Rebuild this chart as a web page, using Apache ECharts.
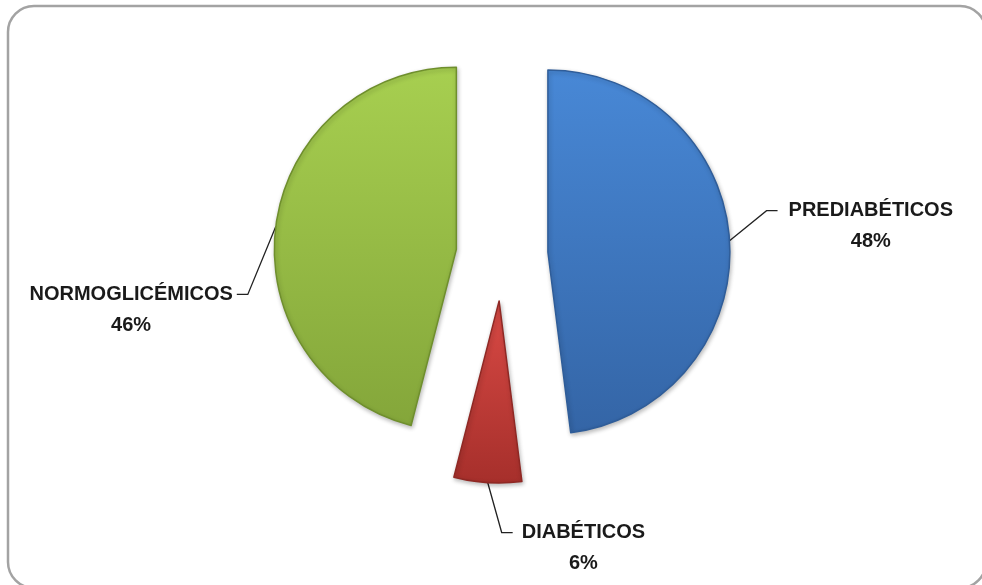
<!DOCTYPE html>
<html>
<head>
<meta charset="utf-8">
<title>Pie</title>
<script src="https://cdn.jsdelivr.net/npm/echarts/dist/echarts.min.js"></script>
<style>
  html, body { margin: 0; padding: 0; background: #fff; }
  #chart { width: 982px; height: 585px; }
</style>
</head>
<body>
<div id="chart"></div>
<script>
// datos del grafico
var categorias = ['PREDIABÉTICOS', 'DIABÉTICOS', 'NORMOGLICÉMICOS'];
var valores = [48, 6, 46];

// colores (arriba, abajo, borde)
var colores = [
    ['#4888d6', '#3465a6', '#2f5d99'],
    ['#d94a45', '#a62f2b', '#8f2824'],
    ['#a7cf50', '#84a63a', '#6f8f2d']
];

// quiebre de la linea guia: [dx, dy, tramo horizontal, separacion]
var quiebres = [
    [37, -30, 11, 11],
    [14, 50, 11, 9],
    [-28, 68, -11, 4]
];

var myChart = echarts.init(document.getElementById('chart'));

var datos = [];
for (var i = 0; i < categorias.length; i++) {
    datos.push({
        name: categorias[i],
        value: valores[i],
        selected: true,
        itemStyle: {
            color: new echarts.graphic.LinearGradient(0, 0, 0, 1, [
                {offset: 0, color: colores[i][0]},
                {offset: 1, color: colores[i][1]}
            ]),
            borderColor: colores[i][2]
        }
    });
}

var option = {
    animation: false,
    backgroundColor: '#fff',
    graphic: [{
        type: 'rect',
        shape: {x: 8, y: 6, width: 978, height: 582, r: 26},
        style: {fill: 'none', stroke: '#a3a3a3', lineWidth: 2.5},
        silent: true
    }],
    series: [{
        type: 'pie',
        center: [502, 255],
        radius: 182,
        startAngle: 90,
        clockwise: true,
        selectedMode: 'multiple',
        selectedOffset: 46,
        avoidLabelOverlap: false,
        data: datos,
        itemStyle: {
            borderWidth: 1.5,
            shadowBlur: 4,
            shadowOffsetX: 1,
            shadowOffsetY: 2,
            shadowColor: 'rgba(0,0,0,0.25)'
        },
        label: {
            show: true,
            position: 'outside',
            formatter: '{b}\n{d}%',
            fontFamily: 'Liberation Sans, Arial, sans-serif',
            fontWeight: 'bold',
            fontSize: 20,
            lineHeight: 31,
            color: '#1a1a1a'
        },
        labelLine: {
            show: true,
            length: 20,
            length2: 10,
            lineStyle: {color: '#222', width: 1.3}
        },
        labelLayout: function (p) {
            var a = p.labelLinePoints[0];
            var q = quiebres[p.dataIndex];
            var m = [a[0] + q[0], a[1] + q[1]];
            var e = [m[0] + q[2], m[1]];
            var r = p.labelRect;
            var izq = q[2] > 0 ? e[0] + q[3] : e[0] - q[3] - r.width;
            var ancla = r.x;
            if (p.align === 'right') {
                ancla = r.x + r.width;
            } else if (p.align === 'center') {
                ancla = r.x + r.width / 2;
            }
            return {
                dx: izq + r.width / 2 - ancla,
                dy: e[1] - 15.5 - r.y,
                align: 'center',
                labelLinePoints: [a, m, e]
            };
        }
    }]
};

myChart.setOption(option);
</script>
</body>
</html>
